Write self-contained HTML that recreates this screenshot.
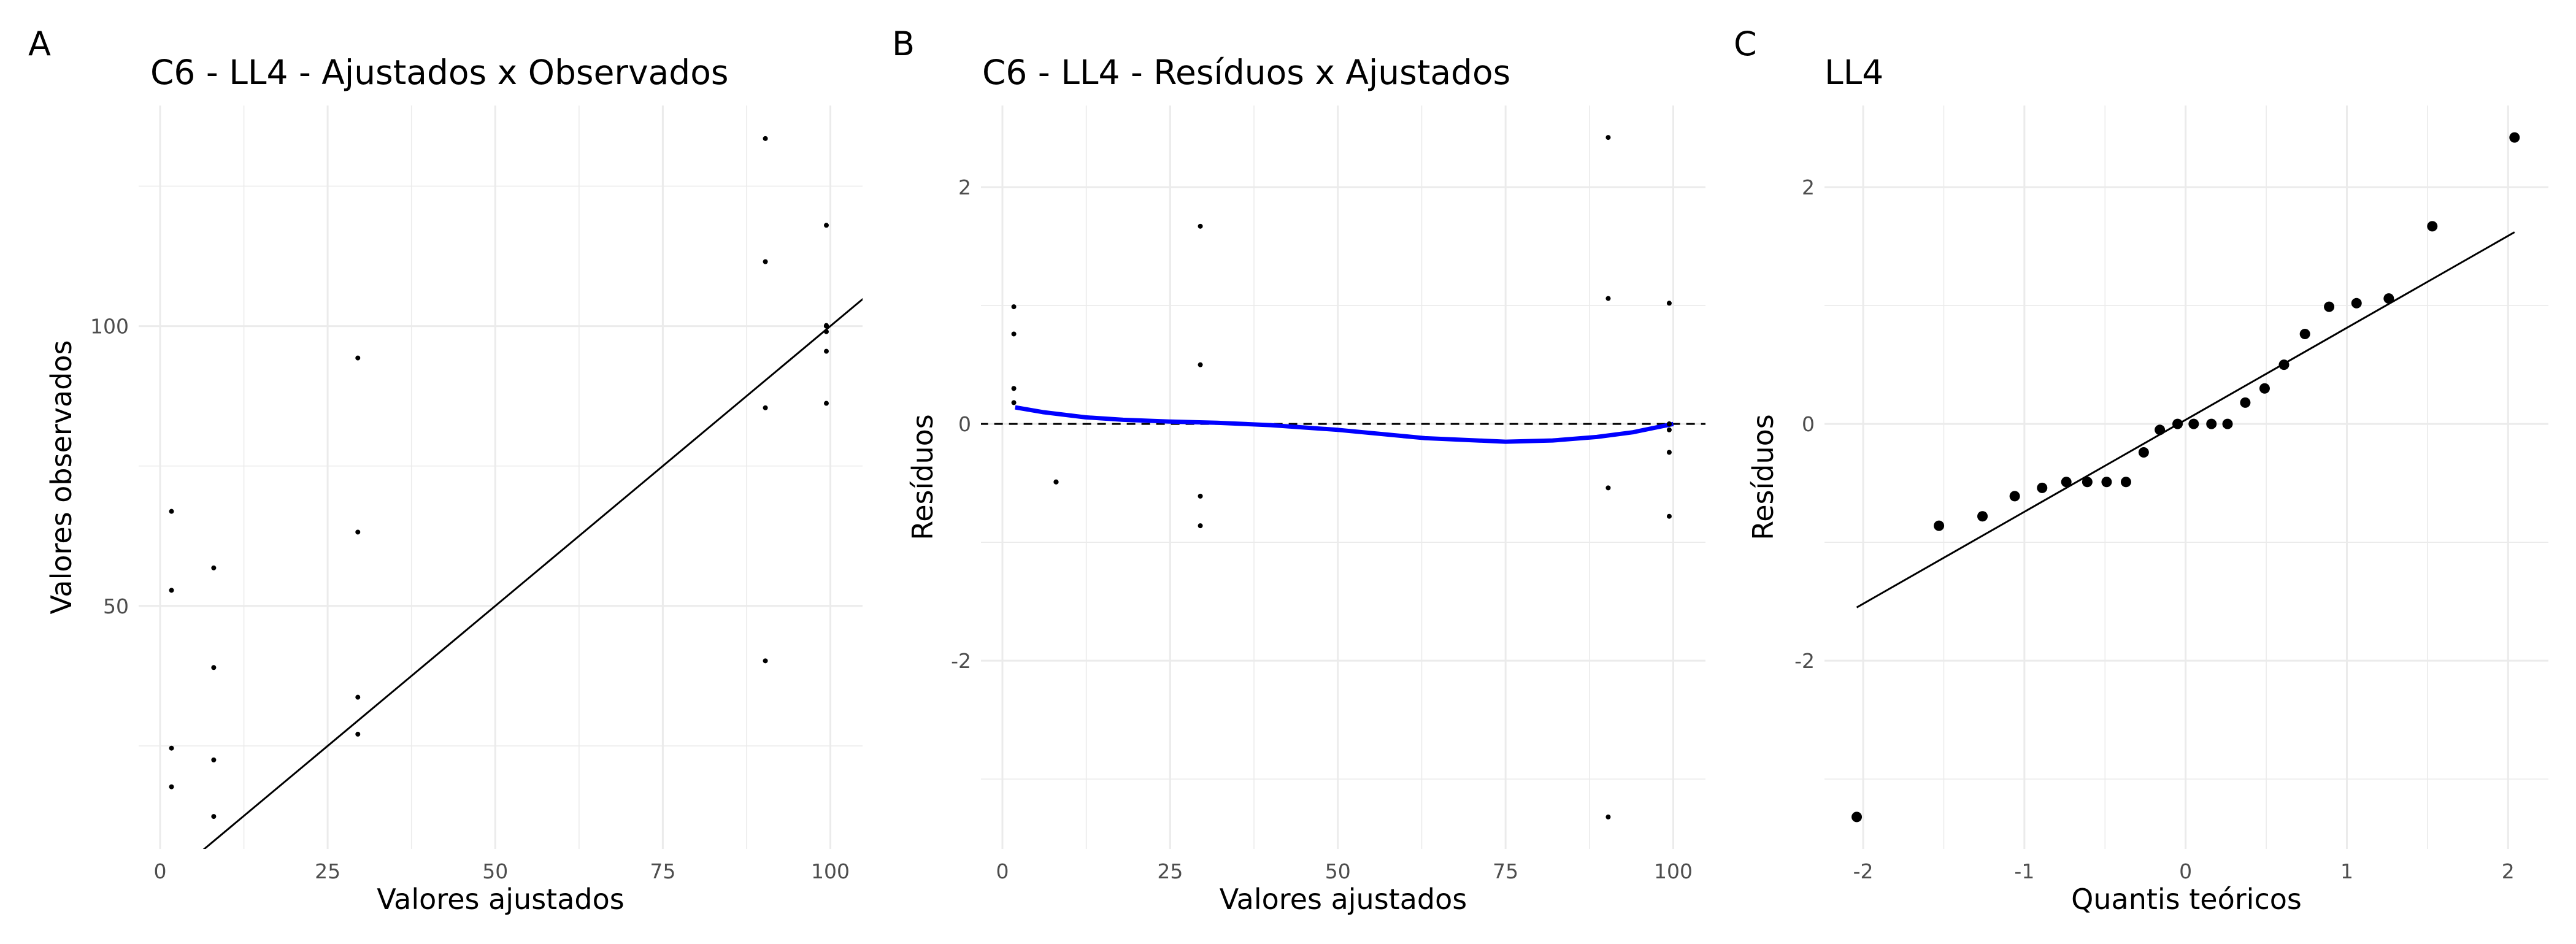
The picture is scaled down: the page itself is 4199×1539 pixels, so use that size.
<!DOCTYPE html>
<html><head><meta charset="utf-8"><style>
html,body{margin:0;padding:0;background:#fff}
svg{display:block;font-family:"DejaVu Sans","Liberation Sans",sans-serif}
</style></head><body>
<svg id="fig" width="4199" height="1539" viewBox="0 0 4199 1539" xmlns="http://www.w3.org/2000/svg"></svg>
<script>
// Panel A data
const fittedA = [1.7,1.7,1.7,1.7, 8,8,8,8, 29.5,29.5,29.5,29.5, 90.3,90.3,90.3,90.3, 99.4,99.4,99.4,99.4,99.4,99.4,99.4,99.4];
const observedA = [66.9,52.8,24.6,17.7, 56.8,39.0,22.5,12.4, 94.3,63.2,33.7,27.1, 133.5,111.5,85.4,40.2, 118,100.1,100,100,100,99,95.5,86.2];
const ticksAx = [0,25,50,75,100];
const ticksAy = [50,100];
// Panel B data
const residB = [0.99,0.76,0.30,0.18, -0.49,-0.49,-0.49,-0.49, 1.67,0.50,-0.61,-0.86, 2.42,1.06,-0.54,-3.32, 1.02,0,0,0,0,-0.05,-0.24,-0.78];
const smoothX = [1.9,6,12.4,18,25,32,40,50,63,75,82,88.6,94,100];
const smoothY = [0.14,0.10,0.056,0.035,0.02,0.01,-0.01,-0.05,-0.12,-0.15,-0.14,-0.11,-0.07,0];
const ticksBy = [-2,0,2];
// Panel C data
const qqTheo = [-2.04,-1.53,-1.26,-1.06,-0.89,-0.74,-0.61,-0.49,-0.37,-0.26,-0.16,-0.05,0.05,0.16,0.26,0.37,0.49,0.61,0.74,0.89,1.06,1.26,1.53,2.04];
const qqSample = [-3.32,-0.86,-0.78,-0.61,-0.54,-0.49,-0.49,-0.49,-0.49,-0.24,-0.05,0,0,0,0,0.18,0.30,0.50,0.76,0.99,1.02,1.06,1.67,2.42];
const qqLine = [[-2.04,-1.55],[2.04,1.62]];
const ticksCx = [-2,-1,0,1,2];

const NS="http://www.w3.org/2000/svg";
const svg=document.getElementById('fig');
function mk(tag,attrs,parent){const e=document.createElementNS(NS,tag);for(const k in attrs)e.setAttribute(k,attrs[k]);(parent||svg).appendChild(e);return e;}
function txt(s,attrs,parent){const e=mk('text',attrs,parent);e.textContent=s;return e;}

function panel(o){
  const g=mk('g',{});
  
  
  const sx=v=>o.L+(v-o.xd[0])/(o.xd[1]-o.xd[0])*(o.R-o.L);
  const sy=v=>o.B-(v-o.yd[0])/(o.yd[1]-o.yd[0])*(o.B-o.T);
  o.xminor.forEach(v=>{const l=mk('line',{x1:sx(v),x2:sx(v),y1:o.T,y2:o.B,stroke:'#ebebeb','stroke-width':1.6},g);});
  o.yminor.forEach(v=>{const l=mk('line',{y1:sy(v),y2:sy(v),x1:o.L,x2:o.R,stroke:'#ebebeb','stroke-width':1.6},g);});
  o.xt.forEach(v=>{const l=mk('line',{x1:sx(v),x2:sx(v),y1:o.T,y2:o.B,stroke:'#ebebeb','stroke-width':3},g);
    const t=txt(String(v),{x:sx(v),y:o.B+48,'text-anchor':'middle','font-size':33,fill:'#4d4d4d'},g);});
  o.yt.forEach(v=>{const l=mk('line',{y1:sy(v),y2:sy(v),x1:o.L,x2:o.R,stroke:'#ebebeb','stroke-width':3},g);
    const t=txt(String(v),{x:o.L-16,y:sy(v)+12,'text-anchor':'end','font-size':33,fill:'#4d4d4d'},g);});
  const cp='clip-'+o.name;
  const cpe=mk('clipPath',{id:cp},g);mk('rect',{x:o.L,y:o.T,width:o.R-o.L,height:o.B-o.T},cpe);
  const pg=mk('g',{'clip-path':'url(#'+cp+')'},g);
  o.draw(pg,sx,sy);
  const t1=txt(o.title,{x:o.titleX,y:137,'font-size':55,fill:'#000'},g);
  const t2=txt(o.tag,{x:o.tagX,y:90,'font-size':54,fill:'#000'},g);
  const t3=txt(o.xlab,{x:(o.L+o.R)/2+o.xlabDx,y:1482,'text-anchor':'middle','font-size':46,fill:'#000'},g);
  const yc=(o.T+o.B)/2;
  const t4=txt(o.ylab,{x:o.ylabX,y:yc,'text-anchor':'middle','font-size':46,fill:'#000',transform:'rotate(-90 '+o.ylabX+' '+yc+')'},g);
}

panel({name:'panel-a',L:226,R:1406,T:172,B:1384,xd:[-3.2,104.8],yd:[6.6,139.4],
 xt:ticksAx,yt:ticksAy,xminor:[12.5,37.5,62.5,87.5],yminor:[25,75,125],
 title:'C6 - LL4 - Ajustados x Observados',titleX:245,tag:'A',tagX:46,xlab:'Valores ajustados',xlabDx:0,ylab:'Valores observados',ylabX:116,
 draw:(g,sx,sy)=>{
  const l=mk('line',{x1:sx(0),y1:sy(0),x2:sx(110),y2:sy(110),stroke:'#000','stroke-width':3},g);
  
  fittedA.forEach((x,i)=>{const c=mk('circle',{cx:sx(x),cy:sy(observedA[i]),r:4,fill:'#000'},g);
   });
 }});

panel({name:'panel-b',L:1599,R:2780,T:172,B:1384,xd:[-3.2,104.8],yd:[-3.59,2.69],
 xt:ticksAx,yt:ticksBy,xminor:[12.5,37.5,62.5,87.5],yminor:[-3,-1,1],
 title:'C6 - LL4 - Resíduos x Ajustados',titleX:1601,tag:'B',tagX:1454,xlab:'Valores ajustados',xlabDx:0,ylab:'Resíduos',ylabX:1520,
 draw:(g,sx,sy)=>{
  const d=mk('line',{x1:sx(-10),x2:sx(120),y1:sy(0),y2:sy(0),stroke:'#000','stroke-width':3,'stroke-dasharray':'14 10'},g);
  
  const p=mk('path',{d:smoothX.map((x,i)=>(i?'L':'M')+sx(x)+' '+sy(smoothY[i])).join(' '),fill:'none',stroke:'#0000ff','stroke-width':7,'stroke-linejoin':'round'},g);
  
  fittedA.forEach((x,i)=>{const c=mk('circle',{cx:sx(x),cy:sy(residB[i]),r:4,fill:'#000'},g);
   });
 }});

panel({name:'panel-c',L:2974,R:4154,T:172,B:1384,xd:[-2.24,2.25],yd:[-3.59,2.69],
 xt:ticksCx,yt:ticksBy,xminor:[-1.5,-0.5,0.5,1.5],yminor:[-3,-1,1],
 title:'LL4',titleX:2974,tag:'C',tagX:2826,xlab:'Quantis teóricos',xlabDx:0,ylab:'Resíduos',ylabX:2890,
 draw:(g,sx,sy)=>{
  const l=mk('line',{x1:sx(qqLine[0][0]),y1:sy(qqLine[0][1]),x2:sx(qqLine[1][0]),y2:sy(qqLine[1][1]),stroke:'#000','stroke-width':3},g);
  
  qqTheo.forEach((x,i)=>{const c=mk('circle',{cx:sx(x),cy:sy(qqSample[i]),r:8.5,fill:'#000'},g);
   });
 }});
</script>
</body></html>
